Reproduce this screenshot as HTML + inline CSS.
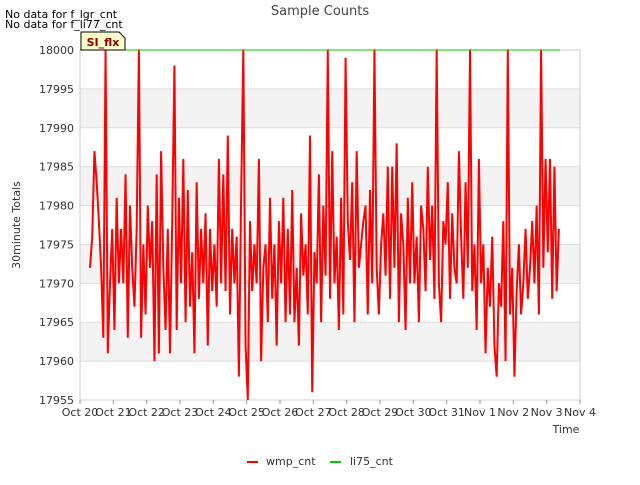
<!DOCTYPE html>
<html><head><meta charset="utf-8"><style>
body{margin:0;background:#fff;font-family:"Liberation Sans","DejaVu Sans",sans-serif}
svg text{font-family:"DejaVu Sans","Liberation Sans",sans-serif}
</style></head><body>
<svg id="chart" width="640" height="480" xmlns="http://www.w3.org/2000/svg">
<rect width="640" height="480" fill="#fff"/>
<text x="320" y="15" text-anchor="middle" font-size="13" fill="#444">Sample Counts</text>
<text x="5" y="18" font-size="11" fill="#000">No data for f_lgr_cnt</text>
<text x="5" y="28" font-size="11" fill="#000">No data for f_li77_cnt</text>
<g id="bands"></g>
<g id="grid"></g>
<rect x="80" y="50" width="500" height="350" fill="none" stroke="#ccc"/>
<g id="yaxis"></g>
<g id="xaxis"></g>
<g id="series"></g>
<text transform="translate(20,225) rotate(-90)" text-anchor="middle" font-size="11" fill="#333">30minute Totals</text>
<text x="566" y="433" text-anchor="middle" font-size="11" fill="#333">Time</text>
<g>
<path d="M81,50 L81,32 L119,32 L125,38 L125,50 Z" fill="#ffffcc" stroke="#000"/>
<text x="103" y="46" text-anchor="middle" font-size="11" font-weight="bold" fill="#8b0000">SI_flx</text>
</g>
<g>
<line x1="247" y1="462" x2="258" y2="462" stroke="#f00" stroke-width="2"/>
<text x="266" y="465" font-size="11" fill="#333">wmp_cnt</text>
<line x1="330" y1="462" x2="341" y2="462" stroke="#0c0" stroke-width="2"/>
<text x="350" y="465" font-size="11" fill="#333">li75_cnt</text>
</g>
</svg>
<script>
const xTickLabels=["Oct 20","Oct 21","Oct 22","Oct 23","Oct 24","Oct 25","Oct 26","Oct 27","Oct 28","Oct 29","Oct 30","Oct 31","Nov 1","Nov 2","Nov 3","Nov 4"];
const yTicks=[17955,17960,17965,17970,17975,17980,17985,17990,17995,18000];
const startDay=0.3;
const stepDay=1/15;
const wmpValues=[
17972,17976,17987,17983,17978,17972,17963,18000,17961,17970,17977,17964,17981,17970,17977,
17970,17984,17963,17980,17972,17967,17977,18000,17963,17975,17966,17980,17972,17978,17960,
17984,17961,17987,17972,17964,17977,17961,17978,17998,17964,17981,17970,17986,17965,17982,
17967,17974,17961,17983,17968,17977,17970,17979,17962,17977,17969,17975,17967,17986,17970,
17984,17969,17989,17966,17977,17970,17976,17958,17981,18000,17962,17955,17978,17969,17975,
17970,17986,17960,17972,17975,17965,17981,17968,17975,17962,17978,17970,17981,17965,17977,
17966,17982,17965,17972,17962,17979,17971,17975,17966,17989,17956,17974,17970,17984,17965,
17980,17971,18000,17968,17987,17970,17976,17964,17981,17966,17999,17978,17973,17983,17965,
17987,17972,17975,17978,17980,17966,17982,17970,18000,17972,17966,17975,17979,17971,17985,
17968,17985,17972,17988,17965,17979,17975,17964,17981,17970,17983,17970,17976,17965,17980,
17977,17969,17985,17973,17980,17968,18000,17970,17965,17978,17975,17983,17968,17979,17972,
17970,17987,17976,17968,17983,17972,18000,17969,17975,17964,17986,17970,17975,17961,17972,
17967,17976,17962,17958,17970,17967,17978,17960,18000,17966,17972,17958,17969,17975,17966,
17970,17977,17968,17972,17978,17970,17980,17966,18000,17972,17986,17974,17986,17968,17985,
17969,17977];
const li75Values=[18000,18000];
const li75Days=[0,14.4];

const NS="http://www.w3.org/2000/svg";
const X0=80,X1=580,Y0=400,Y1=50,DMAX=15,VMIN=17955,VMAX=18000;
const xs=d=>X0+(d/DMAX)*(X1-X0);
const ys=v=>Y0-(v-VMIN)/(VMAX-VMIN)*(Y0-Y1);
function mk(tag,attrs,parent){const e=document.createElementNS(NS,tag);for(const k in attrs)e.setAttribute(k,attrs[k]);parent.appendChild(e);return e;}
const bands=document.getElementById('bands'),grid=document.getElementById('grid'),ya=document.getElementById('yaxis'),xa=document.getElementById('xaxis'),ser=document.getElementById('series');
for(let i=0;i<yTicks.length-1;i++){
  if(i%2===1){const r=mk('rect',{x:X0,y:ys(yTicks[i+1]),width:X1-X0,height:ys(yTicks[i])-ys(yTicks[i+1]),fill:'#f3f3f3'},bands);
  
  }
}
yTicks.forEach(v=>{
  const l=mk('line',{x1:X0,x2:X1,y1:ys(v),y2:ys(v),stroke:'#ddd'},grid);
  
  
  const t=mk('text',{x:X0-6,y:ys(v)+4,'text-anchor':'end','font-size':11,fill:'#333'},ya);
  
  
  t.textContent=v;
});
xTickLabels.forEach((lab,i)=>{
  const tk=mk('line',{x1:xs(i),x2:xs(i),y1:Y0,y2:Y0+4,stroke:'#999'},xa);
  
  
  const t=mk('text',{x:xs(i),y:Y0+16,'text-anchor':'middle','font-size':11,fill:'#333'},xa);
  
  
  t.textContent=lab;
});
const g=mk('polyline',{points:li75Values.map((v,i)=>xs(li75Days[i])+','+ys(v)).join(' '),fill:'none',stroke:'#0c0','stroke-width':1},ser);


const p=mk('polyline',{points:wmpValues.map((v,i)=>xs(startDay+i*stepDay).toFixed(2)+','+ys(v).toFixed(2)).join(' '),fill:'none',stroke:'#f00','stroke-width':2,'stroke-linejoin':'miter'},ser);


</script>
</body></html>
